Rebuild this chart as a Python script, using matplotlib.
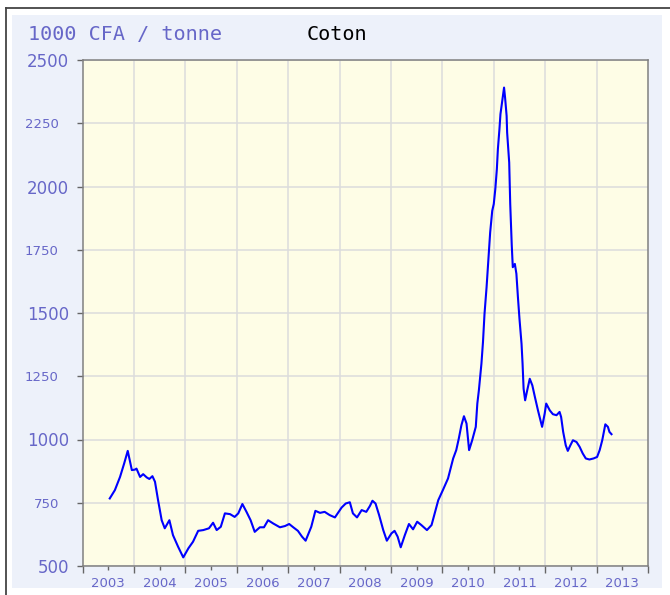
import matplotlib
matplotlib.use('Agg')
import matplotlib.pyplot as plt
from matplotlib.patches import Rectangle
from matplotlib.lines import Line2D

# ---- data ----
years = [2003.53, 2003.63, 2003.73, 2003.81, 2003.88, 2003.92, 2003.96, 2004.02, 2004.05,
         2004.12, 2004.18, 2004.25, 2004.30, 2004.36, 2004.41, 2004.47, 2004.54, 2004.60,
         2004.69, 2004.76, 2004.86, 2004.96, 2005.06, 2005.15, 2005.25, 2005.35, 2005.46,
         2005.54, 2005.61, 2005.69, 2005.77, 2005.87, 2005.96, 2006.03, 2006.11, 2006.19,
         2006.27, 2006.35, 2006.45, 2006.53, 2006.61, 2006.71, 2006.84, 2006.94, 2007.02,
         2007.10, 2007.19, 2007.27, 2007.34, 2007.45, 2007.53, 2007.62, 2007.71, 2007.81,
         2007.91, 2008.04, 2008.12, 2008.20, 2008.26, 2008.34, 2008.43, 2008.52, 2008.59,
         2008.64, 2008.70, 2008.77, 2008.85, 2008.92, 2009.01, 2009.07, 2009.13, 2009.19,
         2009.27, 2009.35, 2009.43, 2009.51, 2009.59, 2009.70, 2009.79, 2009.85, 2009.92,
         2010.01, 2010.11, 2010.21, 2010.27, 2010.32, 2010.37, 2010.42, 2010.47, 2010.52,
         2010.58, 2010.65, 2010.68, 2010.71, 2010.76, 2010.79, 2010.82, 2010.86, 2010.89,
         2010.91, 2010.93, 2010.97, 2011.00, 2011.03, 2011.06, 2011.08, 2011.11, 2011.13,
         2011.16, 2011.18, 2011.20, 2011.22, 2011.25, 2011.26, 2011.30, 2011.32, 2011.35,
         2011.37, 2011.41, 2011.44, 2011.47, 2011.50, 2011.54, 2011.56, 2011.58, 2011.61,
         2011.65, 2011.70, 2011.75, 2011.80, 2011.86, 2011.94, 2011.99, 2012.02, 2012.09,
         2012.15, 2012.22, 2012.28, 2012.31, 2012.35, 2012.40, 2012.44, 2012.49, 2012.54,
         2012.61, 2012.67, 2012.73, 2012.79, 2012.86, 2012.94, 2013.01, 2013.06, 2013.11,
         2013.17, 2013.22, 2013.25, 2013.29]
prices = [767, 800, 852, 905, 955, 918, 879, 881, 885,
          852, 863, 850, 844, 855, 833, 760, 681, 649,
          681, 622, 576, 534, 570, 596, 639, 642, 649,
          671, 642, 655, 708, 705, 694, 708, 745, 714,
          681, 635, 653, 653, 681, 668, 653, 658, 666,
          653, 639, 616, 600, 655, 718, 710, 714, 701,
          692, 731, 747, 752, 708, 692, 721, 714, 737,
          758, 747, 701, 642, 600, 629, 639, 616, 574,
          622, 666, 645, 675, 662, 642, 662, 708, 760,
          800, 846, 925, 958, 1004, 1056, 1092, 1063, 958,
          997, 1050, 1142, 1194, 1300, 1385, 1497, 1602, 1694,
          1760, 1819, 1904, 1931, 1990, 2069, 2148, 2226, 2286,
          2332, 2364, 2391, 2351, 2279, 2213, 2095, 1931, 1766,
          1681, 1694, 1655, 1562, 1477, 1378, 1300, 1201, 1155,
          1194, 1240, 1214, 1168, 1115, 1050, 1102, 1142, 1115,
          1100, 1096, 1109, 1089, 1030, 977, 955, 977, 997,
          990, 971, 945, 925, 921, 925, 931, 958, 997,
          1060, 1050, 1030, 1021]

year_labels = ['2003', '2004', '2005', '2006', '2007', '2008', '2009',
               '2010', '2011', '2012', '2013']
y_major = [500, 1000, 1500, 2000, 2500]
y_minor = [750, 1250, 1750, 2250]
unit_label = '1000 CFA / tonne'
title = 'Coton'

# ---- layout ----
W, H = 670, 595
fig = plt.figure(figsize=(W / 100, H / 100), dpi=100)
fig.patch.set_facecolor('white')

fig.add_artist(Rectangle((12 / W, 1 - 588 / H), (662 - 12) / W, (588 - 15) / H,
                         transform=fig.transFigure, facecolor='#EDF1FA',
                         edgecolor='none', zorder=0))
fig.add_artist(Line2D([6 / W, 6 / W], [0, 1 - 8 / H], transform=fig.transFigure,
                      color='#444444', lw=1.3))
fig.add_artist(Line2D([6 / W, 1], [1 - 8 / H, 1 - 8 / H], transform=fig.transFigure,
                      color='#444444', lw=1.3))

ax = fig.add_axes([82.5 / W, 29 / H, (648 - 82.5) / W, 506 / H])
ax.set_facecolor('#FEFDE6')
ax.set_xlim(2003, 2014)
ax.set_ylim(500, 2500)

lab_color = '#6767C8'

# y ticks
ax.set_yticks(y_major)
ax.set_yticklabels([str(v) for v in y_major], fontsize=12, color=lab_color)
ax.set_yticks(y_minor, minor=True)
ax.set_yticklabels([str(v) for v in y_minor], minor=True, fontsize=9.5, color=lab_color)
ax.tick_params(axis='y', which='major', length=4, width=1, color='#666666', pad=5.5)
ax.tick_params(axis='y', which='minor', length=4, width=1, color='#666666', pad=13)

# x ticks
n = len(year_labels)
ax.set_xticks([2003 + i for i in range(n + 1)])
ax.set_xticklabels([''] * (n + 1))
ax.set_xticks([2003.5 + i for i in range(n)], minor=True)
ax.set_xticklabels(year_labels, minor=True, fontsize=9.5, color=lab_color)
ax.tick_params(axis='x', which='major', length=5, width=1, color='#666666')
ax.tick_params(axis='x', which='minor', length=3, width=1, color='#666666', pad=5)

# grid
for v in y_major + y_minor:
    ax.axhline(v, color='#DCDCDC', lw=1.1, zorder=1)
for i in range(1, n):
    ax.axvline(2003 + i, color='#DCDCDC', lw=1.1, zorder=1)

for s in ax.spines.values():
    s.set_color('#808080')
    s.set_linewidth(1.1)

ax.plot(years, prices, color='#0000FF', lw=1.5, zorder=3)

fig.text(28 / W, 1 - 34 / H, unit_label, fontsize=14.5, family='DejaVu Sans Mono',
         color=lab_color, va='center', ha='left')
fig.text(307 / W, 1 - 34 / H, title, fontsize=14.5, family='DejaVu Sans Mono',
         color='black', va='center', ha='left')

fig.savefig('out.png', dpi=100)
